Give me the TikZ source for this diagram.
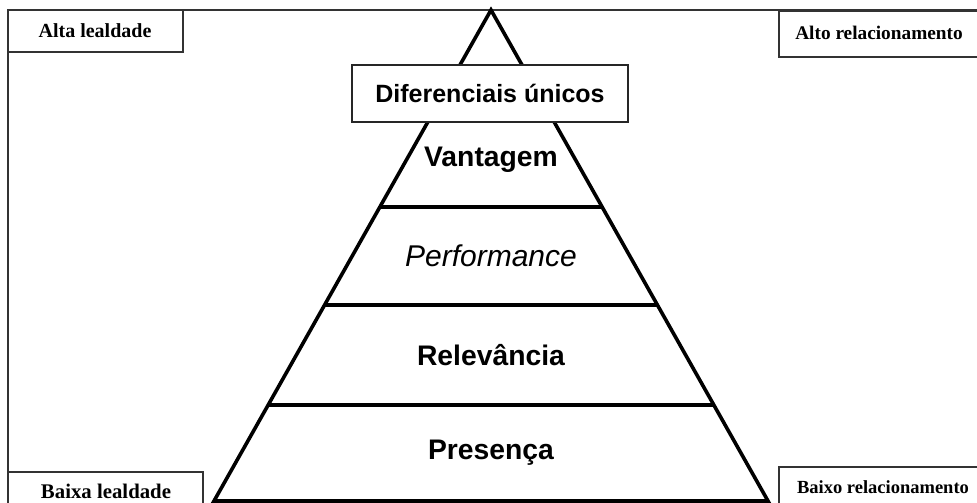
\documentclass[tikz,border=0pt]{standalone}
\usepackage{fontspec}
\setmainfont{Liberation Serif}
\newfontfamily\arialf{Liberation Sans}
\usetikzlibrary{calc}
\begin{document}
\begin{tikzpicture}[x=1pt,y=-1pt,
  frameline/.style={draw=black!80,line width=1.6pt},
  tierline/.style={draw=black,line width=3.6pt},
  cornerlabel/.style={font=\bfseries\fontsize{20}{22}\selectfont,inner sep=0pt},
  tierlabel/.style={font=\arialf\bfseries\fontsize{28.3}{31}\selectfont,inner sep=0pt},
  toplabel/.style={draw=black!85,line width=1.6pt,fill=white,minimum width=276pt,minimum height=57pt,
    font=\arialf\bfseries\fontsize{25}{28}\selectfont}]
\useasboundingbox (0,0) rectangle (977,503);
\clip (0,0) rectangle (977,503);
\fill[white] (0,0) rectangle (977,503);
% outer frame
\draw[frameline] (8,10) rectangle (990,520);
% corner boxes
\draw[frameline] (8,10) rectangle (183,52);
\draw[frameline] (779,11) rectangle (990,57);
\draw[frameline] (8,472) rectangle (203,520);
\draw[frameline] (779,467) rectangle (990,520);
\node[cornerlabel] (altaleal) at (95,31) {Alta lealdade};
\node[cornerlabel,font=\bfseries\fontsize{19.3}{21}\selectfont] (altorel) at (879,33) {Alto relacionamento};
\node[cornerlabel,font=\bfseries\fontsize{20.8}{22}\selectfont] (baixaleal) at (106,491) {Baixa lealdade};
\node[cornerlabel,font=\bfseries\fontsize{18.5}{21}\selectfont] (baixorel) at (883,487) {Baixo relacionamento};
% pyramid
\coordinate (apex) at (491,10);
\coordinate (bl) at (214,501);
\coordinate (br) at (768,501);
\draw[tierline,line join=miter] (bl) -- (apex) -- (br) -- cycle;
\foreach \yy in {207,305,405}{
  \pgfmathsetmacro{\tt}{(\yy-10)/491}
  \draw[tierline] ($(apex)!\tt!(bl)$) -- ($(apex)!\tt!(br)$);
}
\node[tierlabel] (vantagem) at (491,160) {Vantagem};
\node[tierlabel,font=\arialf\itshape\fontsize{30}{32}\selectfont] (performance) at (491,256) {Performance};
\node[tierlabel] (relevancia) at (491,355) {Relevância};
\node[tierlabel] (presenca) at (491,453) {Presença};
\node[toplabel] (diferenciais) at (490,93.5) {Diferenciais únicos};
\end{tikzpicture}
\end{document}
